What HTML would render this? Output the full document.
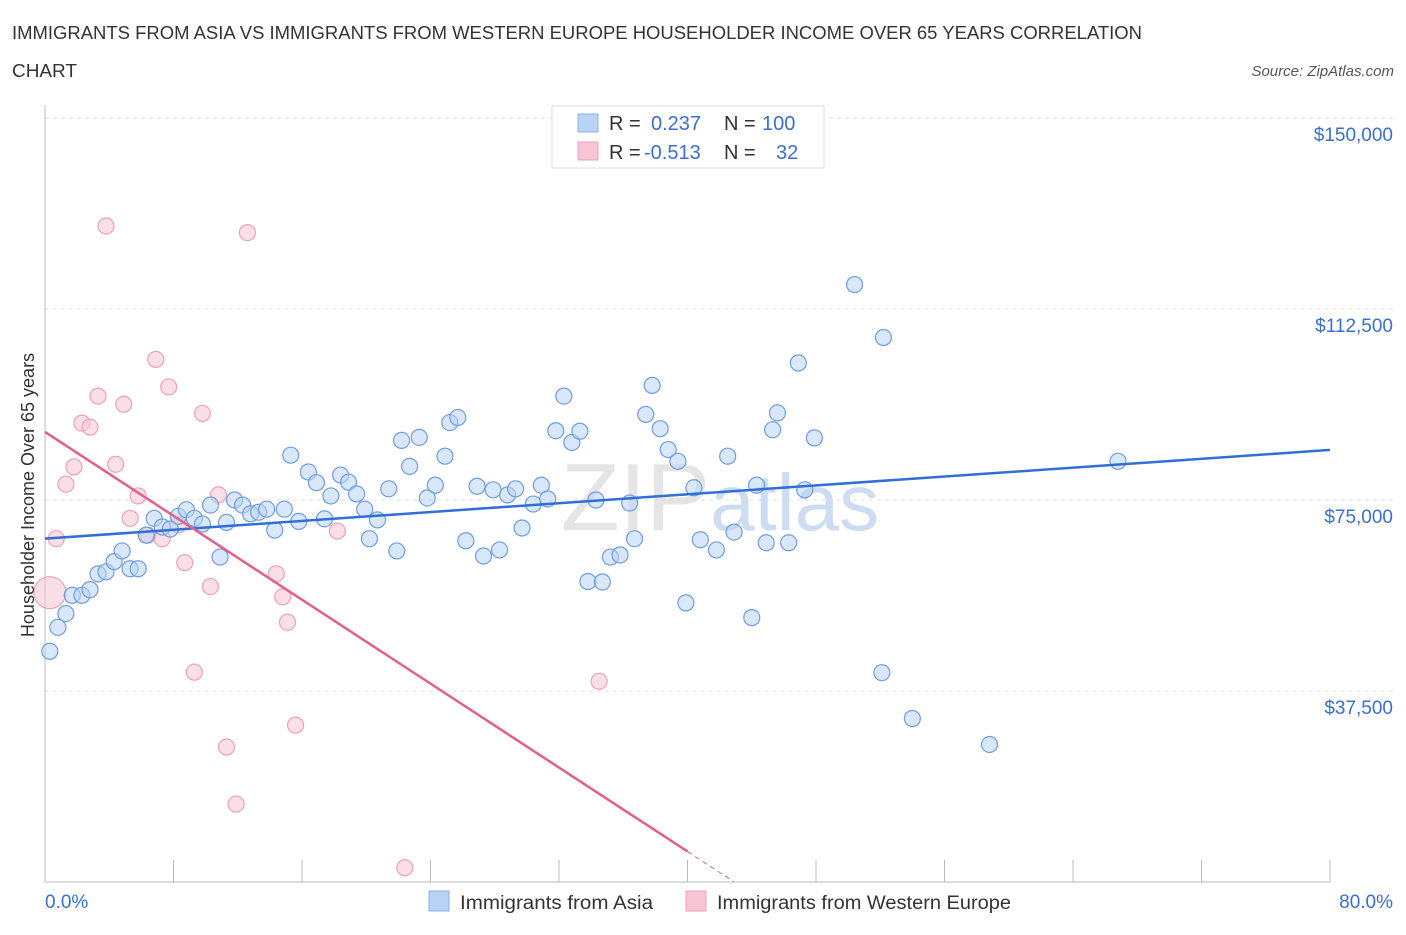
<!DOCTYPE html>
<html><head><meta charset="utf-8"><style>
body{margin:0;background:#fff;font-family:"Liberation Sans",sans-serif;}
svg text{font-family:"Liberation Sans",sans-serif;}
</style></head><body>
<svg width="1406" height="930" viewBox="0 0 1406 930">
<text x="12" y="39" font-size="18" fill="#333" textLength="1130" lengthAdjust="spacingAndGlyphs">IMMIGRANTS FROM ASIA VS IMMIGRANTS FROM WESTERN EUROPE HOUSEHOLDER INCOME OVER 65 YEARS CORRELATION</text>
<text x="12" y="77" font-size="18" fill="#333" textLength="65" lengthAdjust="spacingAndGlyphs">CHART</text>
<text x="1394" y="76" font-size="15" fill="#555" font-style="italic" text-anchor="end">Source: ZipAtlas.com</text>
<text x="720" y="530" font-size="96" fill="#ccc" opacity="0.5" text-anchor="middle" font-family="Liberation Serif">ZIP<tspan fill="#9bbde8" font-family="Liberation Sans" font-size="80">atlas</tspan></text>
<g id="grid"></g>
<g id="axes"></g>
<g id="marks"></g>
<text transform="translate(34,495) rotate(-90)" font-size="18" fill="#333" text-anchor="middle">Householder Income Over 65 years</text>
<text x="45" y="908" font-size="19" fill="#3a6fd0">0.0%</text>
<text x="1393" y="908" font-size="19" fill="#3a6fd0" text-anchor="end">80.0%</text>
<g>
<rect x="552" y="106" width="272" height="62" fill="#fff" stroke="#ddd"/>
<rect x="578" y="114" width="20" height="18" fill="#b8d3f5" stroke="#8ab0e8"/>
<rect x="578" y="142" width="20" height="18" fill="#f8c5d3" stroke="#eea0b8"/>
<text x="609" y="130" font-size="20" fill="#333">R = <tspan x="651" fill="#3a6fd0">0.237</tspan><tspan x="724">N = </tspan><tspan x="762" fill="#3a6fd0">100</tspan></text>
<text x="609" y="159" font-size="20" fill="#333">R = <tspan x="644" fill="#3a6fd0">-0.513</tspan><tspan x="724">N = </tspan><tspan x="776" fill="#3a6fd0">32</tspan></text>
</g>
<g>
<rect x="429" y="891" width="20" height="20" fill="#b8d3f5" stroke="#8ab0e8"/>
<text x="460" y="909" font-size="19" fill="#333" textLength="193" lengthAdjust="spacingAndGlyphs">Immigrants from Asia</text>
<rect x="686" y="891" width="20" height="20" fill="#f8c5d3" stroke="#eea0b8"/>
<text x="717" y="909" font-size="19" fill="#333" textLength="294" lengthAdjust="spacingAndGlyphs">Immigrants from Western Europe</text>
</g>
</svg>
<script>
const yTicks=[37500,75000,112500,150000];
const yTickLabels=["$37,500","$75,000","$112,500","$150,000"];
const xTicks=[0,8,16,24,32,40,48,56,64,72,80];
const asiaX=[0.3,0.8,1.3,1.7,2.3,2.8,3.3,3.8,4.3,4.8,5.3,5.8,6.3,6.8,7.3,7.8,8.3,8.8,9.3,9.8,10.3,10.9,11.3,11.8,12.3,12.8,13.3,13.8,14.3,14.9,15.3,15.8,16.4,16.9,17.4,17.8,18.4,18.9,19.4,19.9,20.2,20.7,21.4,21.9,22.2,22.7,23.3,23.8,24.3,24.9,25.2,25.7,26.2,26.9,27.3,27.9,28.3,28.8,29.3,29.7,30.4,30.9,31.3,31.8,32.3,32.8,33.3,33.8,34.3,34.7,35.2,35.8,36.4,36.7,37.4,37.8,38.3,38.8,39.4,39.9,40.4,40.8,41.8,42.5,42.9,44.0,44.3,44.9,45.3,45.6,46.3,46.9,47.3,47.9,50.4,52.2,52.1,54.0,58.8,66.8];
const asiaY=[45300,50000,52700,56300,56300,57400,60500,60900,62900,65000,61500,61500,68100,71400,69700,69300,71800,73100,71400,70300,74000,63800,70600,75000,74000,72300,72600,73200,69100,73200,83800,70800,80500,78400,71300,75800,79900,78500,76200,73200,67400,71100,77200,65000,86700,81600,87300,75400,77900,83600,90200,91200,67000,77700,64000,77000,65200,76000,77200,69500,74200,77900,75200,88600,95400,86300,88500,59000,75000,58900,63800,64200,74400,67400,91800,97500,89000,84900,82600,54800,77400,67200,65200,83600,68700,51900,77900,66600,88800,92100,66600,101900,77000,87200,117300,106900,41100,32100,27000,82600];
const euX=[0.3,0.7,1.3,1.8,2.3,2.8,3.3,3.8,4.4,4.9,5.3,5.8,6.4,6.9,7.3,7.7,8.3,8.7,9.8,10.3,10.8,11.3,11.9,12.6,14.4,14.8,15.1,15.6,18.2,22.4,34.5,9.3];
const euY=[56800,67400,78100,81500,90100,89300,95400,128800,82000,93800,71400,75800,68100,102600,67400,97200,70100,62700,92000,58000,76000,26500,15300,127500,60500,56000,51000,30800,68900,2800,39400,41200];
const LX0=45,LX1=1330,LY0=882,PXPERK=191/37500;
const sx=v=>LX0+(v/80)*(LX1-LX0);
const sy=v=>LY0-v*PXPERK;
const NS="http://www.w3.org/2000/svg";
function mk(t,a,p){const e=document.createElementNS(NS,t);for(const k in a)e.setAttribute(k,a[k]);p.appendChild(e);return e;}
const grid=document.getElementById('grid'),axes=document.getElementById('axes'),marks=document.getElementById('marks');
yTicks.forEach((v,i)=>{
 const l=mk('line',{x1:45,x2:1393,y1:sy(v),y2:sy(v),stroke:'#ddd','stroke-dasharray':'4,4'},grid);
 
 
 const t=mk('text',{x:1393,y:sy(v)+23,'font-size':19,fill:'#3a6fd0','text-anchor':'end'},axes);
 t.textContent=yTickLabels[i];
 
 
});
const ax=mk('line',{x1:45,x2:1330,y1:LY0,y2:LY0,stroke:'#bbb'},axes);


const ay=mk('line',{x1:45,x2:45,y1:105,y2:LY0,stroke:'#bbb'},axes);


xTicks.forEach(v=>{const t=mk('line',{x1:sx(v),x2:sx(v),y1:LY0,y2:LY0-22,stroke:'#bbb'},axes);
 
 });
euX.forEach((x,i)=>{const c=mk('circle',{cx:sx(x),cy:sy(euY[i]),r:i==0?16:8,fill:'#f8c5d3','fill-opacity':0.55,stroke:'#eea0b8','stroke-width':1.2},marks);
 
 });
asiaX.forEach((x,i)=>{const c=mk('circle',{cx:sx(x),cy:sy(asiaY[i]),r:8,fill:'#b8d3f5','fill-opacity':0.55,stroke:'#6f9de0','stroke-width':1.2},marks);
 
 });
function fit(X,Y){const n=X.length;let mx=0,my=0;X.forEach((x,i)=>{mx+=x;my+=Y[i];});mx/=n;my/=n;let sxy=0,sxx=0;X.forEach((x,i)=>{sxy+=(x-mx)*(Y[i]-my);sxx+=(x-mx)**2;});const b=sxy/sxx;return [my-b*mx,b];}
const [aa,ab]=fit(asiaX,asiaY);
const bl=mk('line',{x1:sx(0),y1:sy(aa),x2:sx(80),y2:sy(aa+ab*80),stroke:'#2f6fd6','stroke-width':2.5},marks);


const [ea,eb]=fit(euX,euY);
const xz=-ea/eb, xs=Math.min(xz,40);
const pl=mk('line',{x1:sx(0),y1:sy(ea),x2:sx(xs),y2:sy(ea+eb*xs),stroke:'#e0608c','stroke-width':2.5},marks);


const pd=mk('line',{x1:sx(xs),y1:sy(ea+eb*xs),x2:sx(xz),y2:sy(0),stroke:'#e0608c','stroke-width':1,'stroke-dasharray':'5,4'},marks);


</script>
</body></html>
